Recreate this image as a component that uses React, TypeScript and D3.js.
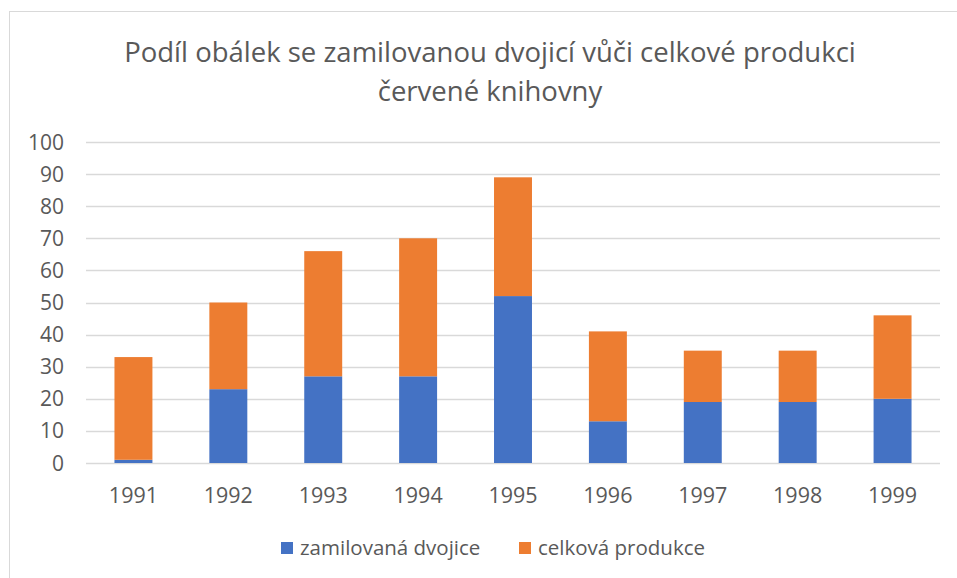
import React, { useEffect, useRef } from 'react';
import * as d3 from 'd3';

// data
const years = ['1991', '1992', '1993', '1994', '1995', '1996', '1997', '1998', '1999'];
const couple = [1, 23, 27, 27, 52, 13, 19, 19, 20];        // zamilovaná dvojice
const rest = [32, 27, 39, 43, 37, 28, 16, 16, 26];         // celková produkce (stacked on top)
const seriesNames = ['zamilovaná dvojice', 'celková produkce'];
const yTicks = [0, 10, 20, 30, 40, 50, 60, 70, 80, 90, 100];

const colors = ['#4472C4', '#ED7D31'];
const FONT = '"Open Sans", "Noto Sans", sans-serif';

const App = () => {
  const ref = useRef<SVGSVGElement>(null);

  useEffect(() => {
    if (!ref.current) return;
    const svg = d3.select(ref.current);
    svg.selectAll('*').remove();

    const W = 957, H = 578;
    const margin = { top: 142, right: 17, bottom: 115, left: 86 };
    const plotW = W - margin.left - margin.right;
    const plotH = H - margin.top - margin.bottom;

    // chart border
    svg.append('rect')
      .attr('x', 9.5).attr('y', 11.5)
      .attr('width', W + 20).attr('height', H + 20)
      .attr('fill', 'white')
      .attr('stroke', '#d9d9d9');

    // title
    const title = svg.append('text')
      .attr('text-anchor', 'middle')
      .attr('font-family', FONT)
      .attr('font-size', 27.5)
      .attr('fill', '#595959');
    title.append('tspan').attr('x', 490).attr('y', 62).text('Podíl obálek se zamilovanou dvojicí vůči celkové produkci');
    title.append('tspan').attr('x', 490).attr('y', 101).text('červené knihovny');

    const g = svg.append('g').attr('transform', `translate(${margin.left},${margin.top})`);

    const x = d3.scaleBand().domain(years).range([0, plotW]).padding(0);
    const y = d3.scaleLinear().domain([0, 100]).range([plotH, 0]);

    // gridlines
    g.selectAll('.grid')
      .data(yTicks)
      .enter().append('line')
      .attr('x1', 0).attr('x2', plotW)
      .attr('y1', d => Math.round(y(d)) + 0.5)
      .attr('y2', d => Math.round(y(d)) + 0.5)
      .attr('stroke', '#d9d9d9')
      .attr('stroke-width', 1.3);

    // y tick labels
    g.selectAll('.ylab')
      .data(yTicks)
      .enter().append('text')
      .attr('x', -22)
      .attr('y', d => y(d))
      .attr('dy', '0.36em')
      .attr('text-anchor', 'end')
      .attr('font-family', FONT)
      .attr('font-size', 21)
      .attr('fill', '#595959')
      .text(d => d);

    // stacked bars
    const table = years.map((yr, i) => ({ year: yr, a: couple[i], b: rest[i] }));
    const stacked = d3.stack<any>().keys(['a', 'b'])(table);
    const barW = x.bandwidth() * 0.4;

    g.selectAll('.layer')
      .data(stacked)
      .enter().append('g')
      .attr('fill', (d, i) => colors[i])
      .selectAll('rect')
      .data(d => d)
      .enter().append('rect')
      .attr('x', d => (x(d.data.year) as number) + (x.bandwidth() - barW) / 2)
      .attr('width', barW)
      .attr('y', d => y(d[1]))
      .attr('height', d => y(d[0]) - y(d[1]));

    // x labels
    g.selectAll('.xlab')
      .data(years)
      .enter().append('text')
      .attr('x', d => (x(d) as number) + x.bandwidth() / 2)
      .attr('y', plotH + 40)
      .attr('text-anchor', 'middle')
      .attr('font-family', FONT)
      .attr('font-size', 21.5)
      .attr('fill', '#595959')
      .text(d => d);

    // legend
    const legendX = [281, 519];
    const legend = svg.selectAll('.legend')
      .data(seriesNames)
      .enter().append('g')
      .attr('transform', (d, i) => `translate(${legendX[i]},542)`);
    legend.append('rect')
      .attr('width', 12).attr('height', 12)
      .attr('fill', (d, i) => colors[i]);
    legend.append('text')
      .attr('x', 19).attr('y', 13)
      .attr('font-family', FONT)
      .attr('font-size', 20.5)
      .attr('fill', '#595959')
      .text(d => d);
  }, []);

  return (
    <div style={{ position: 'absolute', left: 0, top: 0 }}>
      <svg ref={ref} width={957} height={578} style={{ display: 'block' }} />
    </div>
  );
};

export default App;
